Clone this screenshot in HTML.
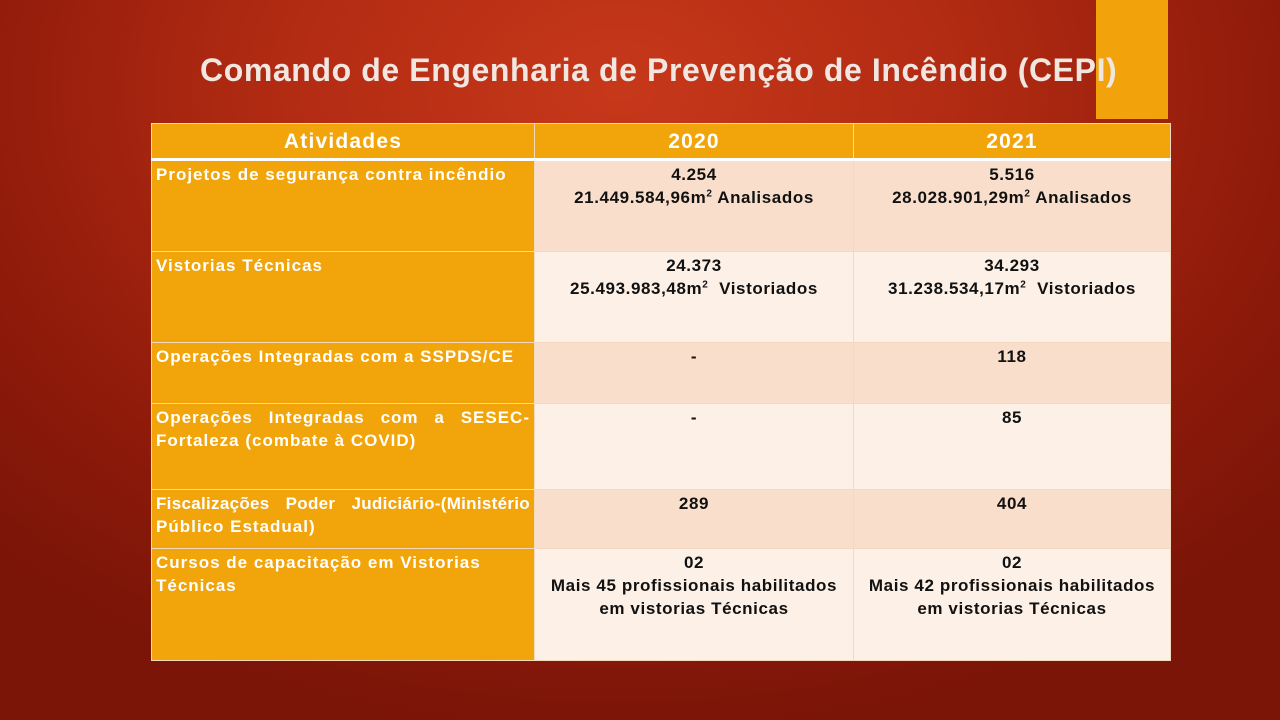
<!DOCTYPE html>
<html><head><meta charset="utf-8"><style>
body{margin:0;width:1280px;height:720px;overflow:hidden;position:relative;font-family:"Liberation Sans",sans-serif;
background:radial-gradient(ellipse 900px 650px at 620px 90px,#c7381a 0%,#b02a12 40%,#8e1a0a 75%,#7a1508 100%);}
.bar{position:absolute;left:1096px;top:0;width:72px;height:119px;background:#f2a30b;}
h1{position:absolute;left:200px;top:52px;margin:0;font-size:32px;font-weight:bold;color:#f1e6e0;letter-spacing:0.6px;white-space:nowrap}
table{position:absolute;left:151px;top:123px;width:1019px;border-collapse:collapse;table-layout:fixed;}
td,th{border:1px solid #f5d9bf;padding:2px 4px;vertical-align:top;font-size:17px;font-weight:bold;line-height:23px;letter-spacing:1px}
td.c{letter-spacing:0.6px}
th{background:#f2a50a;color:#fff;font-size:21px;letter-spacing:1.2px;height:30px;vertical-align:middle;text-align:center;border-bottom:3px solid #fff}
td.a{background:#f2a50a;color:#fff;text-align:justify}
td.c{text-align:center;color:#111}
tr.o td.c{background:#f9dfcb}
tr.e td.c{background:#fcf0e7}
sup{font-size:10px;line-height:0}
.j{text-align:justify;text-align-last:justify;letter-spacing:0.3px}
</style></head><body>
<div class="bar"></div>
<h1>Comando de Engenharia de Prevenção de Incêndio (CEPI)</h1>
<table>
<colgroup><col style="width:383px"><col style="width:319px"><col style="width:317px"></colgroup>
<tr><th>Atividades</th><th>2020</th><th>2021</th></tr>
<tr class="o" style="height:92px"><td class="a">Projetos de segurança contra incêndio</td><td class="c">4.254<br>21.449.584,96m<sup>2</sup> Analisados</td><td class="c">5.516<br>28.028.901,29m<sup>2</sup> Analisados</td></tr>
<tr class="e" style="height:91px"><td class="a">Vistorias Técnicas</td><td class="c">24.373<br>25.493.983,48m<sup>2</sup>&nbsp; Vistoriados</td><td class="c">34.293<br>31.238.534,17m<sup>2</sup>&nbsp; Vistoriados</td></tr>
<tr class="o" style="height:61px"><td class="a">Operações Integradas com a SSPDS/CE</td><td class="c">-</td><td class="c">118</td></tr>
<tr class="e" style="height:86px"><td class="a">Operações Integradas com a SESEC-Fortaleza (combate à COVID)</td><td class="c">-</td><td class="c">85</td></tr>
<tr class="o" style="height:59px"><td class="a"><div class="j">Fiscalizações Poder Judiciário-(Ministério</div>Público Estadual)</td><td class="c">289</td><td class="c">404</td></tr>
<tr class="e" style="height:112px"><td class="a" style="text-align:left">Cursos de capacitação em Vistorias<br>Técnicas</td><td class="c">02<br>Mais 45 profissionais habilitados<br>em vistorias Técnicas</td><td class="c">02<br>Mais 42 profissionais habilitados<br>em vistorias Técnicas</td></tr>
</table>
</body></html>
